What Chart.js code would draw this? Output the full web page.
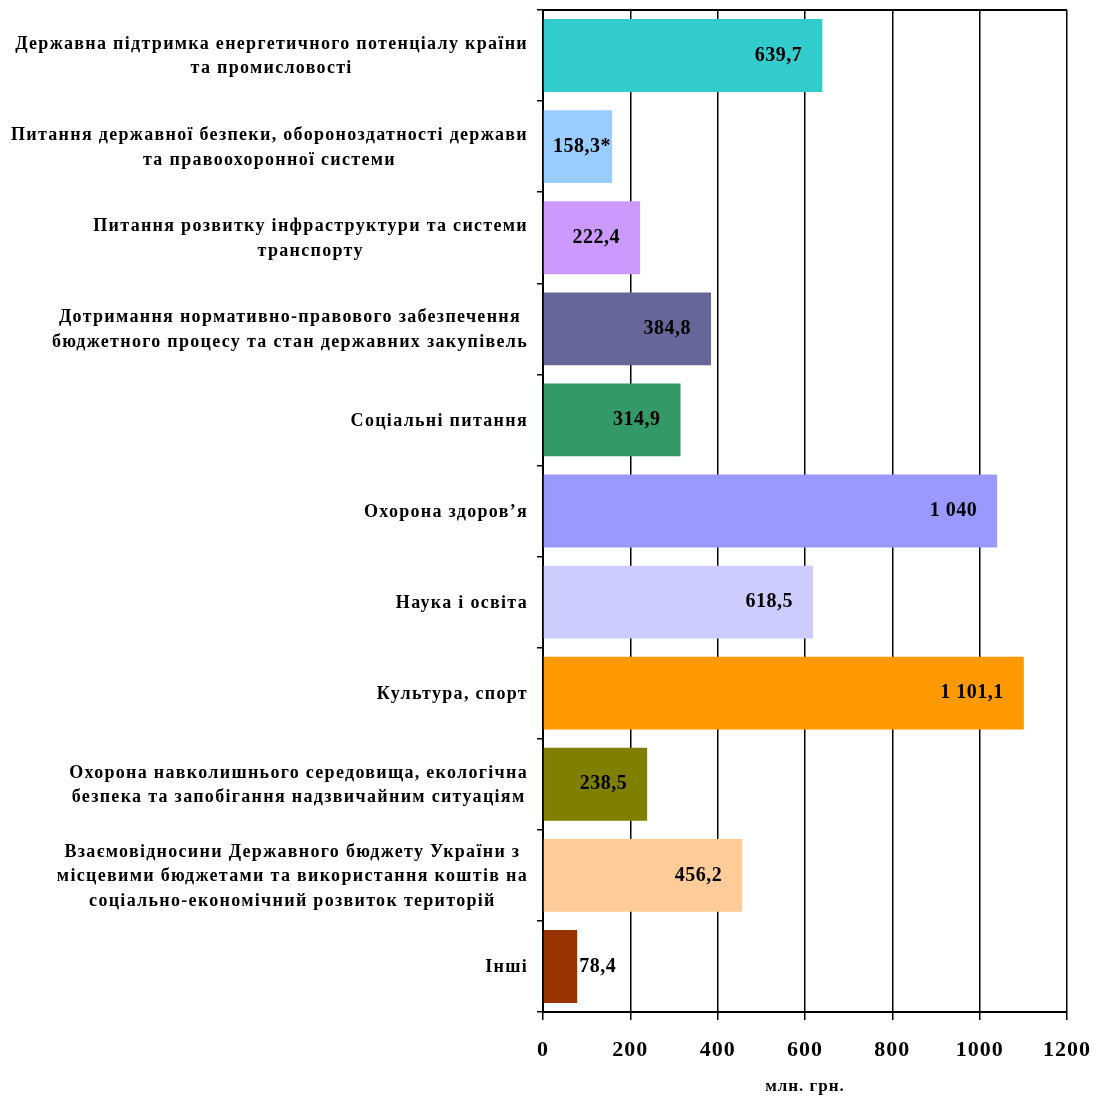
<!DOCTYPE html>
<html>
<head>
<meta charset="utf-8">
<script src="https://cdn.jsdelivr.net/npm/chart.js@4.4.1/dist/chart.umd.min.js"></script>
<style>
  body { margin: 0; background: #fff; }
  #wrap { width: 1093px; height: 1097px; }
</style>
</head>
<body>
<div id="wrap"><canvas id="budgetChart"></canvas></div>
<script>
// data
const categories = [
  ['Державна підтримка енергетичного потенціалу країни', 'та промисловості'],
  ['Питання державної безпеки, обороноздатності держави', 'та правоохоронної системи'],
  ['Питання розвитку інфраструктури та системи', 'транспорту'],
  ['Дотримання нормативно-правового забезпечення', 'бюджетного процесу та стан державних закупівель'],
  ['Соціальні питання'],
  ['Охорона здоров\u2019я'],
  ['Наука і освіта'],
  ['Культура, спорт'],
  ['Охорона навколишнього середовища, екологічна', 'безпека та запобігання надзвичайним ситуаціям'],
  ['Взаємовідносини Державного бюджету України з', 'місцевими бюджетами та використання коштів на', 'соціально-економічний розвиток територій'],
  ['Інші']
];
const values = [639.7, 158.3, 222.4, 384.8, 314.9, 1040, 618.5, 1101.1, 238.5, 456.2, 78.4];
const notes = ['', '*', '', '', '', '', '', '', '', '', ''];
const barColors = ['#33CCCC', '#99CCFF', '#CC99FF', '#666699', '#339966', '#9999FF',
                   '#CCCCFF', '#FF9900', '#808000', '#FFCC99', '#993300'];
const xTicks = [0, 200, 400, 600, 800, 1000, 1200];
const axisTitle = 'млн. грн.';

const SERIF = "'Liberation Serif', 'Times New Roman', serif";

function fmt(v) {
  let s = v.toFixed(v % 1 === 0 ? 0 : 1).replace('.', ',');
  let [a, b] = s.split(',');
  a = a.replace(/\B(?=(\d{3})+(?!\d))/g, ' ');
  return b ? a + ',' + b : a;
}

// draws category labels (centered block, right edge at axis) and value labels
const labelsPlugin = {
  id: 'labels',
  beforeDraw(chart) {
    chart.ctx.letterSpacing = '1px';
  },
  afterDraw(chart) {
    const ctx = chart.ctx;
    const y = chart.scales.y;
    const area = chart.chartArea;
    ctx.save();
    ctx.fillStyle = '#000';
    ctx.textBaseline = 'middle';

    // top border of plot area
    ctx.strokeStyle = '#000';
    ctx.lineWidth = 2;
    ctx.beginPath();
    ctx.moveTo(area.left, area.top);
    ctx.lineTo(area.right, area.top);
    ctx.stroke();

    ctx.font = 'bold 18px ' + SERIF;
    ctx.letterSpacing = '1.3px';
    const lineH = 24.5;
    categories.forEach((lines, i) => {
      const cy = y.getPixelForValue(i);
      const maxW = Math.max(...lines.map(l => ctx.measureText(l).width));
      const cx = area.left - 15 - maxW / 2;
      ctx.textAlign = 'center';
      lines.forEach((l, k) => {
        ctx.fillText(l, cx, cy + (k - (lines.length - 1) / 2) * lineH + 1);
      });
    });

    ctx.font = 'bold 20px ' + SERIF;
    ctx.letterSpacing = '0.5px';
    const meta = chart.getDatasetMeta(0);
    meta.data.forEach((bar, i) => {
      const txt = fmt(values[i]) + notes[i];
      const w = ctx.measureText(txt).width;
      const left = bar.base, end = bar.x;
      if (end - left < w + 4) {
        ctx.textAlign = 'left';
        ctx.fillText(txt, end + 2, bar.y);
      } else {
        ctx.textAlign = 'right';
        const r = Math.max(end - 20, Math.min(end - 1, left + w + 10));
        ctx.fillText(txt, r, bar.y);
      }
    });
    ctx.restore();
  }
};

new Chart(document.getElementById('budgetChart'), {
  type: 'bar',
  data: {
    labels: categories,
    datasets: [{
      data: values,
      backgroundColor: barColors,
      categoryPercentage: 0.8,
      barPercentage: 1.0
    }]
  },
  options: {
    indexAxis: 'y',
    responsive: true,
    maintainAspectRatio: false,
    animation: false,
    layout: { padding: { top: 10, right: 26, left: 0, bottom: 0 } },
    plugins: {
      legend: { display: false },
      tooltip: { enabled: false }
    },
    scales: {
      x: {
        min: xTicks[0],
        max: xTicks[xTicks.length - 1],
        afterBuildTicks: (s) => { s.ticks = xTicks.map(v => ({ value: v })); },
        afterFit: (s) => { s.height = 85; s.paddingRight = 0; s.paddingLeft = 0; },
        border: { color: '#000', width: 2 },
        grid: { color: '#000', lineWidth: 1.5, tickLength: 8 },
        ticks: {
          color: '#000',
          padding: 17,
          maxRotation: 0,
          callback: (v) => String(v),
          font: { family: SERIF, size: 22, weight: 'bold' }
        },
        title: {
          display: true,
          text: axisTitle,
          color: '#000',
          padding: { top: 14, bottom: 0 },
          font: { family: SERIF, size: 17, weight: 'bold' }
        }
      },
      y: {
        border: { color: '#000', width: 2 },
        grid: { drawOnChartArea: false, color: '#000', lineWidth: 1.5, tickLength: 6 },
        ticks: { display: false },
        afterFit: (s) => { s.width = 543; }
      }
    }
  },
  plugins: [labelsPlugin]
});
</script>
</body>
</html>
